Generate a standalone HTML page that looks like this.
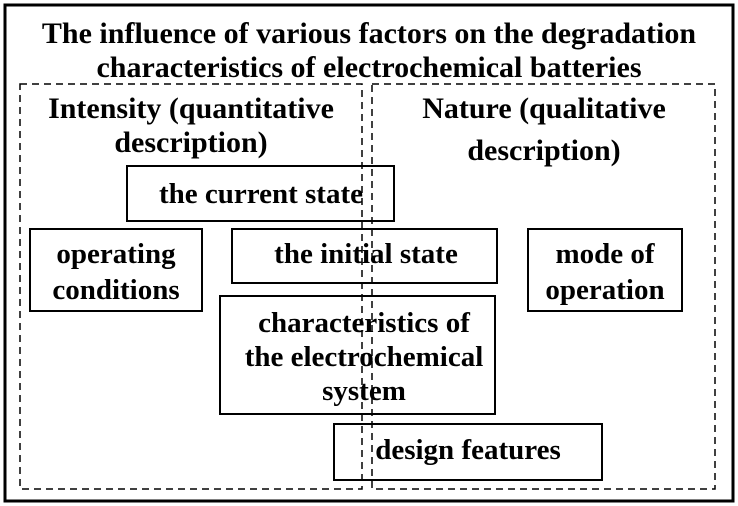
<!DOCTYPE html>
<html><head><style>body{margin:0;background:#fff}svg{display:block}</style></head><body>
<svg width="738" height="506" viewBox="0 0 738 506" xmlns="http://www.w3.org/2000/svg" font-family="Liberation Serif, serif" font-weight="bold" text-anchor="middle">
<rect x="5" y="5" width="728" height="496" fill="#fff" stroke="#000" stroke-width="3"/>
<text x="369" y="43" font-size="30">The influence of various factors on the degradation</text>
<text x="369" y="77" font-size="30">characteristics of electrochemical batteries</text>
<g fill="none" stroke="#000" stroke-width="1.5" stroke-dasharray="7,5">
<rect x="20" y="84" width="342" height="405"/>
<rect x="372" y="84" width="343" height="405"/>
</g>
<text x="191" y="118" font-size="30">Intensity (quantitative</text>
<text x="191" y="152" font-size="30">description)</text>
<text x="544" y="118" font-size="30">Nature (qualitative</text>
<text x="544" y="160" font-size="30">description)</text>
<g fill="none" stroke="#000" stroke-width="2">
<rect x="127" y="166" width="267" height="55"/>
<rect x="30" y="229" width="172" height="82"/>
<rect x="232" y="229" width="265" height="54"/>
<rect x="528" y="229" width="154" height="82"/>
<rect x="220" y="296" width="275" height="118"/>
<rect x="334" y="424" width="268" height="56"/>
</g>
<g font-size="29">
<text x="261" y="203">the current state</text>
<text x="116" y="263">operating</text>
<text x="116" y="299">conditions</text>
<text x="366" y="263">the initial state</text>
<text x="605" y="263">mode of</text>
<text x="605" y="299">operation</text>
<text x="364" y="332">characteristics of</text>
<text x="364" y="366">the electrochemical</text>
<text x="364" y="400">system</text>
<text x="468" y="459">design features</text>
</g>
</svg>
</body></html>
